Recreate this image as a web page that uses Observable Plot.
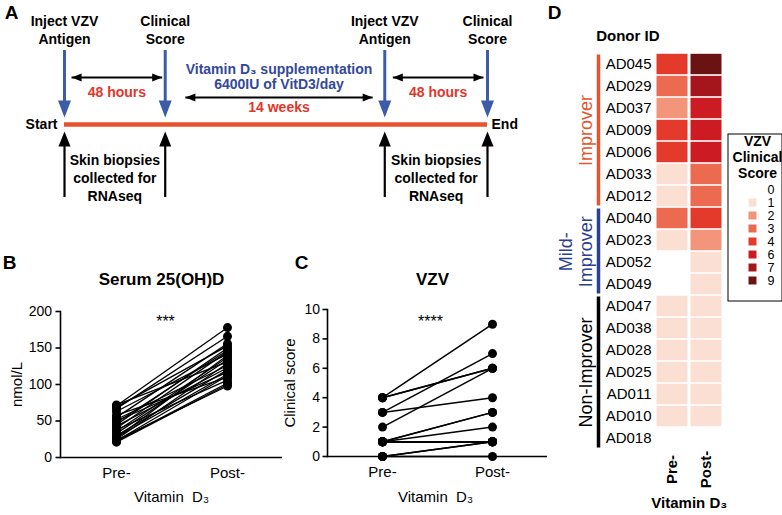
<!DOCTYPE html>
<html><head><meta charset="utf-8">
<script src="https://cdn.jsdelivr.net/npm/d3@7"></script>
<script src="https://cdn.jsdelivr.net/npm/@observablehq/plot@0.6"></script>
<style>
html,body{margin:0;padding:0;background:#fff;}
#fig{position:relative;width:782px;height:515px;overflow:hidden;background:#fff;}
</style></head><body><div id="fig"></div>
<script>
// ---------- DATA ----------
// Panel A: study timeline (schematic positions)
const eventLabels = ["Inject VZV\nAntigen", "Clinical\nScore", "Inject VZV\nAntigen", "Clinical\nScore"];
const eventPos = [0, 1, 3.18, 4.2];
const spanFrom = [0.07, 1.2, 3.26];
const spanTo = [0.97, 3.06, 4.16];
const spanLabels = ["48 hours", "14 weeks", "48 hours"];
const spanTier = [0, 1, 0];
const supplementNote = "Vitamin D₃ supplementation\n6400IU of VitD3/day";
const biopsyLabel = "Skin biopsies\ncollected for\nRNAseq";
const biopsyPairs = [[0, 1], [2, 3]];

// Panel B: serum 25(OH)D (nmol/L), paired pre/post
const serumPre  = [71, 69, 67, 72, 55, 52, 63, 48, 50, 45, 58, 40, 43, 36, 38, 33, 30, 27, 25, 28, 22, 24, 23, 21];
const serumPost = [178, 153, 166, 131, 156, 126, 142, 147, 117, 150, 110, 145, 123, 137, 106, 134, 120, 140, 129, 114, 102, 98, 112, 100];
const serumTicks = [0, 50, 100, 150, 200];

// Panels C & D: VZV clinical score per donor
const donors = ["AD045","AD029","AD037","AD009","AD006","AD033","AD012","AD040","AD023","AD052","AD049","AD047","AD038","AD028","AD025","AD011","AD010","AD018"];
const vzvPre  = [4, 3, 2, 4, 4, 1, 1, 3, 1, 0, 0, 1, 1, 1, 1, 1, 1, 0];
const vzvPost = [9, 7, 6, 6, 6, 3, 3, 4, 2, 1, 1, 1, 1, 1, 1, 1, 1, 0];
const vzvTicks = [0, 2, 4, 6, 8, 10];
const timepoints = ["Pre-", "Post-"];
const groupNames = ["Improver", "Mild-\nImprover", "Non-Improver"];
const groupFirst = ["AD045", "AD040", "AD047"];
const groupLast  = ["AD012", "AD049", "AD018"];
const groupMid   = ["AD009", "AD023", "AD025"];
const scoreLevels = [0, 1, 2, 3, 4, 6, 7, 9];
const scoreColors = ["#ffffff", "#fbdfd3", "#f2957a", "#ec6b50", "#e43a2c", "#cc1b22", "#a4161c", "#6b1313"];

// ---------- STYLE ----------
const FONT = "'Liberation Sans', Arial, Helvetica, sans-serif";
const BLUE = "#3c5ca8", NAVY = "#33489b", RED = "#e8532d", REDTXT = "#e2362b";
const GROUP_COLORS = ["#e3552e", "#2f3f8f", "#000000"];
const GROUP_LABEL_DX = [-69, -79, -69];
const GROUP_LABEL_DY = [0, 11.2, 0];
const baseStyle = {fontFamily: FONT, background: "transparent", color: "black", overflow: "visible"};
const fig = document.getElementById("fig");
function place(el, left, top) {
  el.style.position = "absolute"; el.style.left = left + "px"; el.style.top = top + "px";
  fig.append(el);
}
// filled arrowhead symbol: tip at origin, pointing up
const head = (len, wid) => ({draw(ctx) { ctx.moveTo(0, 0); ctx.lineTo(wid / 2, len); ctx.lineTo(-wid / 2, len); ctx.closePath(); }});

// ---------- PANEL A ----------
const events = eventPos.map((pos, i) => ({pos, label: eventLabels[i]}));
const spans = spanFrom.map((from, i) => ({from, to: spanTo[i], label: spanLabels[i], tier: spanTier[i], mid: (from + spanTo[i]) / 2}));
const biopsies = biopsyPairs.map(([a, b]) => ({mid: (eventPos[a] + eventPos[b]) / 2}));
const LA = {labelY: 29, blueTop: 50, blueTip: 117, axis: 124, blackTip: 131, blackBottom: 197,
            tierArrow: [77, 97], tierLabel: [92, 107.5], noteY: 76, biopsyY: 177};
const plotA = Plot.plot({
  width: 520, height: 205, marginLeft: 64, marginRight: 33, marginTop: 0, marginBottom: 0,
  x: {domain: [0, 4.2], axis: null},
  y: {domain: [0, 205], range: [0, 205], axis: null},
  style: baseStyle,
  marks: [
    Plot.text(["A"], {x: eventPos[0], y: 12, dx: -53, fontWeight: "bold", fontSize: 19}),
    Plot.text(events, {x: "pos", y: LA.labelY, text: "label", fontWeight: "bold", fontSize: 14, lineHeight: 1.28}),
    Plot.ruleY([LA.axis], {x1: eventPos[0], x2: eventPos[3], stroke: RED, strokeWidth: 4.5}),
    Plot.ruleX(events, {x: "pos", y1: LA.blueTop, y2: LA.blueTip - 14, stroke: BLUE, strokeWidth: 3}),
    Plot.dot(events, {x: "pos", y: LA.blueTip, symbol: head(17, 13), rotate: 180, fill: BLUE, stroke: "none"}),
    Plot.ruleX(events, {x: "pos", y1: LA.blackTip + 12, y2: LA.blackBottom, stroke: "black", strokeWidth: 2.2}),
    Plot.dot(events, {x: "pos", y: LA.blackTip, symbol: head(15, 12), fill: "black", stroke: "none"}),
    Plot.link(spans, {x1: "from", x2: "to", y1: d => LA.tierArrow[d.tier], y2: d => LA.tierArrow[d.tier], stroke: "black", strokeWidth: 1.8}),
    Plot.dot(spans, {x: "from", y: d => LA.tierArrow[d.tier], symbol: head(10, 8), rotate: -90, fill: "black", stroke: "none"}),
    Plot.dot(spans, {x: "to", y: d => LA.tierArrow[d.tier], symbol: head(10, 8), rotate: 90, fill: "black", stroke: "none"}),
    Plot.text(spans, {x: "mid", y: d => LA.tierLabel[d.tier], text: "label", fill: REDTXT, fontWeight: "bold", fontSize: 14}),
    Plot.text([supplementNote], {x: spans[1].mid, y: LA.noteY, fill: NAVY, fontWeight: "bold", fontSize: 14, lineHeight: 1.07}),
    Plot.text(["Start"], {x: eventPos[0], y: LA.axis, dx: -7, textAnchor: "end", fontWeight: "bold", fontSize: 14}),
    Plot.text(["End"], {x: eventPos[3], y: LA.axis, dx: 4, textAnchor: "start", fontWeight: "bold", fontSize: 14}),
    Plot.text(biopsies, {x: "mid", y: LA.biopsyY, text: () => biopsyLabel, fontWeight: "bold", fontSize: 14, lineHeight: 1.28})
  ]
});
place(plotA, 0, 0);

// ---------- PANEL B ----------
const serumRows = serumPre.map((pre, i) => ({pre, post: serumPost[i]}));
const serumLong = serumRows.flatMap(d => [{t: "Pre-", v: d.pre}, {t: "Post-", v: d.post}]);
const plotB = Plot.plot({
  width: 300, height: 265, marginLeft: 60, marginRight: 18, marginTop: 61, marginBottom: 58,
  x: {type: "point", domain: timepoints, padding: 0.5},
  y: {domain: [0, 200]},
  style: baseStyle,
  marks: [
    Plot.axisY({ticks: serumTicks, tickSize: 4.5, tickPadding: 4, fontSize: 14, strokeWidth: 1.6, label: null}),
    Plot.axisX({tickSize: 0, tickPadding: 10, fontSize: 15, label: null}),
    Plot.ruleY([0], {strokeWidth: 1.6}),
    Plot.frame({anchor: "left", strokeWidth: 1.6}),
    Plot.link(serumRows, {x1: () => "Pre-", x2: () => "Post-", y1: "pre", y2: "post", stroke: "black", strokeWidth: 1.3}),
    Plot.dot(serumLong, {x: "t", y: "v", r: 4.5, fill: "black"}),
    Plot.text(["B"], {frameAnchor: "top-left", dx: -51, dy: -49, textAnchor: "middle", lineAnchor: "middle", fontWeight: "bold", fontSize: 19}),
    Plot.text(["Serum 25(OH)D"], {frameAnchor: "top", dx: -10, dy: -32, lineAnchor: "middle", fontWeight: "bold", fontSize: 17}),
    Plot.text(["***"], {frameAnchor: "top", dx: -6, dy: 10, lineAnchor: "middle", fontSize: 16}),
    Plot.text(["nmol/L"], {frameAnchor: "left", dx: -43, rotate: -90, textAnchor: "middle", lineAnchor: "middle", fontSize: 15}),
    Plot.text(["Vitamin  D₃"], {frameAnchor: "bottom", dy: 40, lineAnchor: "middle", fontSize: 15})
  ]
});
place(plotB, 0, 250);

// ---------- PANEL C ----------
const vzvRows = donors.map((id, i) => ({id, pre: vzvPre[i], post: vzvPost[i]}));
const vzvLong = vzvRows.flatMap(d => [{id: d.id, t: "Pre-", v: d.pre}, {id: d.id, t: "Post-", v: d.post}]);
const plotC = Plot.plot({
  width: 300, height: 265, marginLeft: 77, marginRight: 3, marginTop: 59, marginBottom: 59,
  x: {type: "point", domain: timepoints, padding: 0.5},
  y: {domain: [0, 10]},
  style: baseStyle,
  marks: [
    Plot.axisY({ticks: vzvTicks, tickSize: 4.5, tickPadding: 3, fontSize: 14, strokeWidth: 1.6, label: null}),
    Plot.axisX({tickSize: 0, tickPadding: 10, fontSize: 15, label: null}),
    Plot.ruleY([0], {strokeWidth: 1.6}),
    Plot.frame({anchor: "left", strokeWidth: 1.6}),
    Plot.link(vzvRows, {x1: () => "Pre-", x2: () => "Post-", y1: "pre", y2: "post", stroke: "black", strokeWidth: 1.5}),
    Plot.dot(vzvLong, {x: "t", y: "v", r: 4.5, fill: "black"}),
    Plot.text(["C"], {frameAnchor: "top-left", dx: -26, dy: -47, textAnchor: "middle", lineAnchor: "middle", fontWeight: "bold", fontSize: 19}),
    Plot.text(["VZV"], {frameAnchor: "top", dx: -5, dy: -30, lineAnchor: "middle", fontWeight: "bold", fontSize: 17}),
    Plot.text(["****"], {frameAnchor: "top", dx: -7, dy: 12, lineAnchor: "middle", fontSize: 16}),
    Plot.text(["Clinical score"], {frameAnchor: "left", dx: -37, rotate: -90, textAnchor: "middle", lineAnchor: "middle", fontSize: 15}),
    Plot.text(["Vitamin  D₃"], {frameAnchor: "bottom", dx: -2, dy: 41, lineAnchor: "middle", fontSize: 15})
  ]
});
place(plotC, 250, 250);

// ---------- PANEL D ----------
const groups = groupNames.map((name, i) => ({name, first: groupFirst[i], last: groupLast[i], mid: groupMid[i]}));
const colorScale = {type: "ordinal", domain: scoreLevels, range: scoreColors};
const plotD = Plot.plot({
  width: 242, height: 515, marginLeft: 114, marginRight: 58.5, marginTop: 49, marginBottom: 61.5,
  x: {type: "band", domain: timepoints, padding: 0, axis: null},
  y: {type: "band", domain: donors, padding: 0},
  color: colorScale,
  style: baseStyle,
  marks: [
    Plot.cell(vzvLong, {x: "t", y: "id", fill: "v", insetLeft: 1.5, insetRight: 1.5, insetTop: 0.8, insetBottom: 0.8}),
    Plot.axisY({tickSize: 0, tickPadding: 3, fontSize: 15, label: null}),
    ...groups.map((g, i) => Plot.ruleX([g], {x: null, y1: "first", y2: "last", dx: -90.75, stroke: GROUP_COLORS[i], strokeWidth: 3.5, insetTop: 1.5, insetBottom: 1.5})),
    ...groups.map((g, i) => Plot.text([g], {y: "mid", text: "name", frameAnchor: "left", dx: GROUP_LABEL_DX[i], dy: GROUP_LABEL_DY[i], rotate: -90, textAnchor: "middle", lineAnchor: "middle", fill: GROUP_COLORS[i], fontSize: 18, lineHeight: 1.1})),
    Plot.text(["D"], {frameAnchor: "top-left", dx: -100, dy: -37, textAnchor: "middle", lineAnchor: "middle", fontWeight: "bold", fontSize: 19}),
    Plot.text(["Donor ID"], {frameAnchor: "top-left", dx: 5, dy: -13, lineAnchor: "middle", textAnchor: "end", fontWeight: "bold", fontSize: 15}),
    Plot.text(timepoints, {x: d => d, frameAnchor: "bottom", dy: 15.5, rotate: -90, textAnchor: "middle", lineAnchor: "middle", fontWeight: "bold", fontSize: 15}),
    Plot.text(["Vitamin D₃"], {frameAnchor: "bottom", dy: 49.5, lineAnchor: "middle", fontWeight: "bold", fontSize: 15})
  ]
});
place(plotD, 540, 0);

// ---------- LEGEND ----------
const plotL = Plot.plot({
  width: 55, height: 168, margin: 0,
  y: {type: "point", domain: scoreLevels, range: [54, 149], padding: 0, axis: null},
  color: colorScale,
  style: baseStyle,
  marks: [
    Plot.frame({inset: 0.5, stroke: "black"}),
    Plot.text(["VZV\nClinical\nScore"], {frameAnchor: "top", dx: 2.5, dy: 23, lineAnchor: "middle", lineHeight: 1.15, fontWeight: "bold", fontSize: 14}),
    Plot.dot(scoreLevels, {y: d => d, frameAnchor: "left", dx: 25, symbol: "square", r: 4.5, fill: d => d, stroke: "none"}),
    Plot.text(scoreLevels, {y: d => d, text: d => String(d), frameAnchor: "left", dx: 40, textAnchor: "start", lineAnchor: "middle", fontSize: 12.5})
  ]
});
place(plotL, 727, 133);
</script></body></html>
